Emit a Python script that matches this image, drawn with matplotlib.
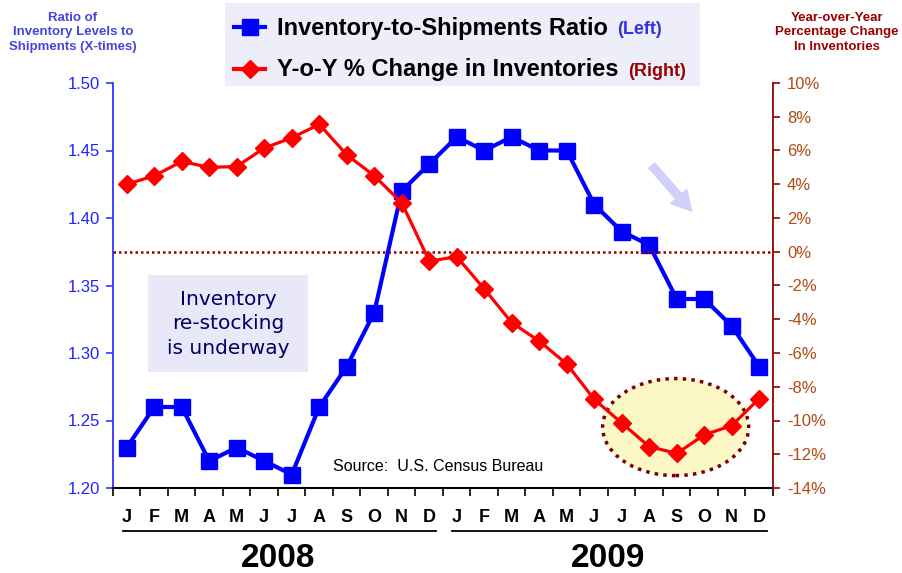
import numpy as np
import matplotlib
matplotlib.use("Agg")
import matplotlib.pyplot as plt
import matplotlib.transforms as mtransforms
from matplotlib.patches import Ellipse, Rectangle
from matplotlib.lines import Line2D
from matplotlib.ticker import FormatStrFormatter

plt.rcParams['font.family'] = ['Liberation Sans', 'DejaVu Sans']

# Data
months = list("JFMAMJJASOND") * 2
years = ["2008", "2009"]
ratio = [1.23, 1.26, 1.26, 1.22, 1.23, 1.22, 1.21, 1.26, 1.29, 1.33, 1.42, 1.44,
         1.46, 1.45, 1.46, 1.45, 1.45, 1.41, 1.39, 1.38, 1.34, 1.34, 1.32, 1.29]
yoy = [4.0, 4.5, 5.35, 5.0, 5.05, 6.15, 6.75, 7.55, 5.75, 4.5, 2.9, -0.55,
       -0.3, -2.2, -4.2, -5.3, -6.65, -8.75, -10.15, -11.55, -11.95, -10.85, -10.3, -8.7]

x = np.arange(len(months))

W, H = 903, 573
fig = plt.figure(figsize=(W / 100, H / 100), dpi=100)
ax = fig.add_axes([113 / W, 1 - 488 / H, 660 / W, 405 / H])
ax2 = ax.twinx()

blue = '#0000FF'
red = '#FF0000'
maroon = '#990000'

# --- left axis: ratio ---
ax.set_xlim(-0.5, 23.5)
ax.set_ylim(1.20, 1.50)
ax.set_yticks(np.arange(1.20, 1.501, 0.05))
ax.yaxis.set_major_formatter(FormatStrFormatter('%.2f'))
ax.tick_params(axis='y', colors='#3333FF', labelcolor='#2222FF', labelsize=12,
               length=5, width=1.2, direction='out', pad=4)
ax.spines['left'].set_color('#3333FF')
ax.spines['left'].set_linewidth(1.3)
ax.spines['top'].set_visible(False)
ax.spines['right'].set_visible(False)
ax.spines['bottom'].set_linewidth(1.5)

# months on the x axis, ticks between categories
ax.set_xticks(x)
ax.set_xticklabels(months, fontweight='bold', fontsize=13)
ax.set_xticks(np.arange(-0.5, 24, 1), minor=True)
ax.tick_params(axis='x', which='major', length=0, pad=15)
ax.tick_params(axis='x', which='minor', length=6, width=1.2, direction='out')

ax.plot(x, ratio, color=blue, lw=3, marker='s', ms=12, zorder=3)

# --- right axis: yoy % ---
ax2.set_ylim(-14, 10)
ax2.set_yticks(range(-14, 11, 2))
ax2.set_yticklabels([f"{v}%" for v in range(-14, 11, 2)])
ax2.tick_params(axis='y', colors=maroon, labelcolor='#B04A12', labelsize=12,
                length=5, width=1.2, direction='out', pad=5)
for s in ['top', 'left', 'bottom']:
    ax2.spines[s].set_visible(False)
ax2.spines['right'].set_color(maroon)
ax2.spines['right'].set_linewidth(1.3)

ax2.axhline(0, color=maroon, ls=(0, (1, 1.2)), lw=1.8, zorder=1)
ax2.add_patch(Ellipse((19.96, -10.39), 5.31, 5.75, facecolor='#FBF8C6',
                      edgecolor='#7A0000', ls=(0, (1, 1.5)), lw=2.5, zorder=1))
ax2.plot(x, yoy, color=red, lw=2.3, marker='D', ms=9, zorder=4)

ax2.annotate('', xy=(20.54, 2.41), xytext=(19.09, 5.11),
             arrowprops=dict(arrowstyle='simple,head_width=1.1,head_length=1.0,tail_width=0.4',
                             color='#D0D0FA', mutation_scale=14, shrinkA=0, shrinkB=0))

# annotation box
ax.add_patch(Rectangle((0.0526, 0.287), 0.243, 0.239, transform=ax.transAxes,
                       facecolor='#E8E8F8', edgecolor='none', zorder=1))
ax.text(0.174, 0.405, "Inventory\nre-stocking\nis underway", transform=ax.transAxes,
        ha='center', va='center', fontsize=14.5, color='#000066', family='DejaVu Sans',
        linespacing=1.38, zorder=2)

ax.text(0.4924, 0.052, "Source:  U.S. Census Bureau", transform=ax.transAxes,
        ha='center', va='center', fontsize=11.5)

# year labels with underlines
trans = mtransforms.blended_transform_factory(ax.transData, ax.transAxes)
ax.plot([-0.125, 11.25], [-0.106, -0.106], transform=trans, color='black', lw=1.3, clip_on=False)
ax.plot([11.83, 23.3], [-0.106, -0.106], transform=trans, color='black', lw=1.3, clip_on=False)
ax.text(5.5, -0.175, years[0], transform=trans, ha='center', va='center',
        fontsize=24, fontweight='bold')
ax.text(17.5, -0.175, years[1], transform=trans, ha='center', va='center',
        fontsize=24, fontweight='bold')

# axis titles
fig.text(73 / W, 1 - 32.5 / H, "Ratio of\nInventory Levels to\nShipments (X-times)",
         ha='center', va='center', fontsize=9.5, fontweight='bold', color='#4444DD',
         multialignment='center', linespacing=1.3)
fig.text(837 / W, 1 - 32.5 / H, "Year-over-Year\nPercentage Change\nIn Inventories",
         ha='center', va='center', fontsize=9.5, fontweight='bold', color=maroon,
         multialignment='center', linespacing=1.3)

# legend panel
fig.add_artist(Rectangle((225 / W, 1 - 86 / H), 475 / W, 83 / H, transform=fig.transFigure,
                         facecolor='#EEEEFA', edgecolor='none'))
fig.add_artist(Line2D([234 / W, 265 / W], [1 - 27 / H, 1 - 27 / H], transform=fig.transFigure,
                      color=blue, lw=3))
fig.add_artist(Line2D([250 / W], [1 - 27 / H], transform=fig.transFigure,
                      color=blue, marker='s', ms=12))
fig.add_artist(Line2D([234 / W, 265 / W], [1 - 69 / H, 1 - 69 / H], transform=fig.transFigure,
                      color=red, lw=3))
fig.add_artist(Line2D([250 / W], [1 - 69 / H], transform=fig.transFigure,
                      color=red, marker='D', ms=9))
fig.text(277 / W, 1 - 34.5 / H, "Inventory-to-Shipments Ratio", ha='left', va='baseline',
         fontsize=17, fontweight='bold')
fig.text(617 / W, 1 - 34.5 / H, "(Left)", ha='left', va='baseline',
         fontsize=13, fontweight='bold', color='#3333DD')
fig.text(277 / W, 1 - 76 / H, "Y-o-Y % Change in Inventories", ha='left', va='baseline',
         fontsize=17, fontweight='bold')
fig.text(628 / W, 1 - 76 / H, "(Right)", ha='left', va='baseline',
         fontsize=13, fontweight='bold', color=maroon)

fig.savefig('out.png', dpi=100)
